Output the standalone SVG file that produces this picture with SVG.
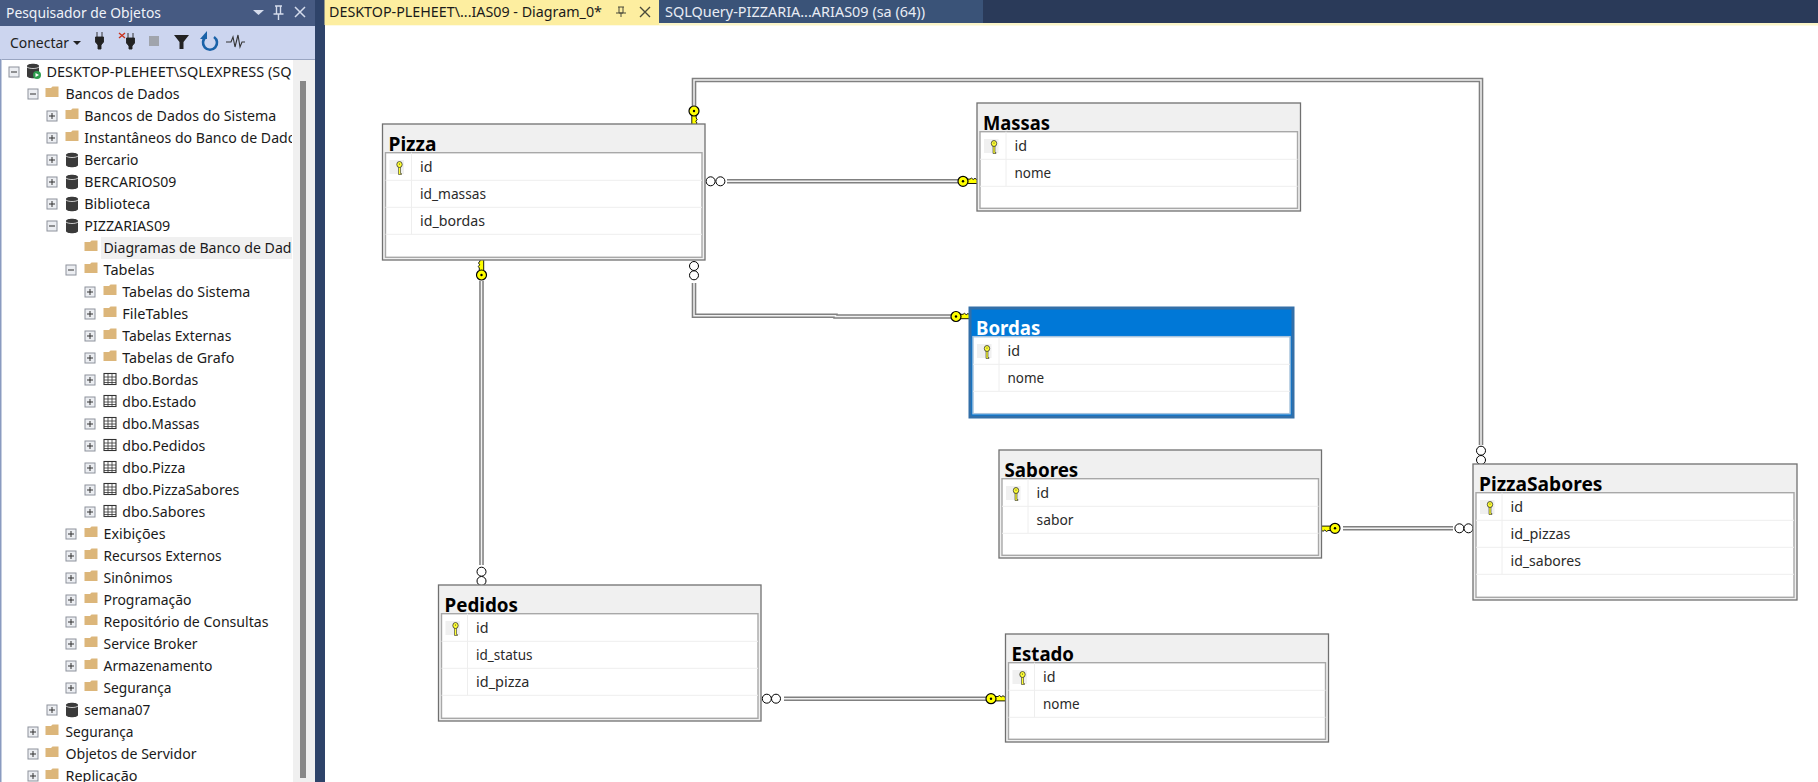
<svg xmlns="http://www.w3.org/2000/svg" xmlns:xlink="http://www.w3.org/1999/xlink" width="1818" height="782" viewBox="0 0 1818 782">
<style>
text{font-family:"Noto Sans","Open Sans","Liberation Sans",sans-serif;font-size:14px;fill:#1e1e1e}
.t{font-size:14px;fill:#1a1a1a}
.h{font-size:14px;fill:#e8ecf4}
.tt{font-size:19px;font-weight:700;fill:#000}
.c{font-size:14.5px;fill:#2a2a2a}
.box{fill:#f0f0f0;stroke:#707070;stroke-width:1.3}
.inner{fill:#fff;stroke:#a8a8a8;stroke-width:1.4}
.row{stroke:#eeeeee;stroke-width:1;fill:none}
.kbg{fill:#f0f0f0}
.lo{fill:none;stroke:#808080;stroke-width:4.6}
.li{fill:none;stroke:#f2f2f2;stroke-width:1.5}
.end{fill:#fff;stroke:#000;stroke-width:1}
</style>
<defs>
<clipPath id="treeclip"><rect x="5" y="60" width="287" height="722"/></clipPath>
<g id="minus"><rect x="-5" y="-5" width="10" height="10" fill="#eceef2" stroke="#8d929c"/><path d="M-3 0H3" stroke="#333" fill="none"/></g>
<g id="plus"><rect x="-5" y="-5" width="10" height="10" fill="#eceef2" stroke="#8d929c"/><path d="M-3 0H3M0-3V3" stroke="#333" fill="none"/></g>
<path id="folder" d="M-6.5-5H-1L0.5-6.5H6.5V4H-6.5Z" fill="#dcb67a"/>
<g id="db"><path d="M-6-5C-6-8 6-8 6-5V5C6 8-6 8-6 5Z" fill="#3a3a3a"/><path d="M-6-4C-4-2 4-2 6-4" stroke="#eee" fill="none" stroke-width="0.8"/></g>
<g id="tbl"><rect x="-6" y="-5.5" width="12" height="11" fill="#fff" stroke="#333" stroke-width="1.1"/><path d="M-6-2H6M-6 1H6M-6 3.5H6M-2-5.5V5.5M2-5.5V5.5" stroke="#333" stroke-width="0.8" fill="none"/></g>
<g id="pk"><path d="M-1-1.500H1V6.500H2V7.500H-1Z" fill="#ffff30" stroke="#333" stroke-width="0.6"/><ellipse cx="0" cy="-2.500" rx="2.700" ry="3" fill="#ffff30" stroke="#333" stroke-width="0.8"/><circle cx="0" cy="-3" r="0.6" fill="#333"/></g>
<g id="fk"><path d="M-2.200 3H2.200V7L3.200 8.500L1.800 10.200L3 12L1.500 14L0.500 19H-2.200Z" fill="#ffff00" stroke="#000" stroke-width="0.9"/><ellipse cx="0" cy="0" rx="5" ry="5" fill="#ffff00" stroke="#000" stroke-width="1.200"/><circle cx="0" cy="0" r="1.200" fill="#000"/></g>
</defs>
<rect width="1818" height="782" fill="#fff"/>
<g id="tabstrip">
<rect x="0" y="0" width="1818" height="23" fill="#2a3a59"/>
<rect x="325" y="23" width="1493" height="2.500" fill="#fbf5c8"/>
<rect x="315" y="0" width="10" height="782" fill="#2e4369"/>
<rect x="324.500" y="0" width="334.500" height="25" fill="#fdeea0"/>
<rect x="659" y="0" width="324" height="23" fill="#3a5378"/>
<text x="329" y="17" class="t" textLength="273" lengthAdjust="spacingAndGlyphs">DESKTOP-PLEHEET\...IAS09 - Diagram_0*</text>
<path d="M618 7H624M619 7V13H623V7M616 13H626M621 13V17" fill="none" stroke="#4a4a3a" stroke-width="1"/>
<path d="M640 7L650 17M650 7L640 17" fill="none" stroke="#4a4a3a" stroke-width="1.400"/>
<text x="665" y="17" class="h" textLength="260" lengthAdjust="spacingAndGlyphs">SQLQuery-PIZZARIA...ARIAS09 (sa (64))</text>
</g>
<g id="explorer">
<rect x="0" y="0" width="315" height="782" fill="#fff"/>
<rect x="0" y="0" width="315" height="26" fill="#465a82"/>
<rect x="0" y="26" width="315" height="33" fill="#ccd5ef"/>
<rect x="0" y="59" width="1.500" height="723" fill="#8a9bc0"/>
<rect x="1.500" y="59" width="313.500" height="1" fill="#9aa6c2"/>
<rect x="293" y="60" width="22" height="722" fill="#f0f0f0"/>
<rect x="300" y="81" width="6" height="697" fill="#888888"/>
<text x="6" y="18" class="h" style="fill:#f0f3f9;font-size:14.5px" textLength="155" lengthAdjust="spacingAndGlyphs">Pesquisador de Objetos</text>
<path d="M253 10H264L258.500 15Z" fill="#d5dcec"/>
<path d="M275 6H282M276.500 6V14H280.500V6M273.500 14H283.500M278.500 14V20" fill="none" stroke="#d5dcec" stroke-width="1.400"/>
<path d="M295 7L305 17M305 7L295 17" fill="none" stroke="#d5dcec" stroke-width="1.500"/>
<text x="10" y="48" class="t" style="font-size:14.5px;fill:#222" textLength="59" lengthAdjust="spacingAndGlyphs">Conectar</text>
<path d="M73 41H81L77 45Z" fill="#222"/>
<path d="M97 32V37M102 32V37M95.500 37H103.500V42L101 45V49H98V45L95.500 42Z" fill="#222" stroke="#222" stroke-width="0.900"/>
<path d="M128 33V38M133 33V38M126.500 38H134.500V43L132 46V49H129V46L126.500 43Z" fill="#222" stroke="#222" stroke-width="0.900"/>
<path d="M119 33L125 38M125 33L119 38" stroke="#c8321e" stroke-width="1.400" fill="none"/>
<rect x="149" y="36" width="10" height="10" fill="#a0a4ac"/>
<path d="M174 35H189L183.500 42V49H179.500V42Z" fill="#222"/>
<path d="M214 37A7 7 0 1 1 206 37" fill="none" stroke="#1a62a8" stroke-width="2.600"/>
<path d="M207 31V39H200Z" fill="#1a62a8"/>
<path d="M226 42H231L233 37L235 47L238 35L240 47L242 42H245" fill="none" stroke="#333" stroke-width="1.100"/>
<rect x="101" y="237" width="191" height="22" fill="#f0f0f0"/>
<g clip-path="url(#treeclip)">
<text x="46.500" y="77" class="t" textLength="245" lengthAdjust="spacingAndGlyphs">DESKTOP-PLEHEET\SQLEXPRESS (SQ</text>
<text x="65.500" y="99" class="t" textLength="114" lengthAdjust="spacingAndGlyphs">Bancos de Dados</text>
<text x="84.300" y="121" class="t" textLength="192" lengthAdjust="spacingAndGlyphs">Bancos de Dados do Sistema</text>
<text x="84.300" y="143" class="t" textLength="212" lengthAdjust="spacingAndGlyphs">Instantâneos do Banco de Dado</text>
<text x="84.300" y="165" class="t" textLength="54" lengthAdjust="spacingAndGlyphs">Bercario</text>
<text x="84.300" y="187" class="t" textLength="92" lengthAdjust="spacingAndGlyphs">BERCARIOS09</text>
<text x="84.300" y="209" class="t" textLength="66" lengthAdjust="spacingAndGlyphs">Biblioteca</text>
<text x="84.300" y="231" class="t" textLength="86" lengthAdjust="spacingAndGlyphs">PIZZARIAS09</text>
<text x="103.500" y="253" class="t" textLength="188" lengthAdjust="spacingAndGlyphs">Diagramas de Banco de Dad</text>
<text x="103.500" y="275" class="t" textLength="51" lengthAdjust="spacingAndGlyphs">Tabelas</text>
<text x="122.300" y="297" class="t" textLength="128" lengthAdjust="spacingAndGlyphs">Tabelas do Sistema</text>
<text x="122.300" y="319" class="t" textLength="66" lengthAdjust="spacingAndGlyphs">FileTables</text>
<text x="122.300" y="341" class="t" textLength="109" lengthAdjust="spacingAndGlyphs">Tabelas Externas</text>
<text x="122.300" y="363" class="t" textLength="112" lengthAdjust="spacingAndGlyphs">Tabelas de Grafo</text>
<text x="122.300" y="385" class="t" textLength="76" lengthAdjust="spacingAndGlyphs">dbo.Bordas</text>
<text x="122.300" y="407" class="t" textLength="74" lengthAdjust="spacingAndGlyphs">dbo.Estado</text>
<text x="122.300" y="429" class="t" textLength="77" lengthAdjust="spacingAndGlyphs">dbo.Massas</text>
<text x="122.300" y="451" class="t" textLength="83" lengthAdjust="spacingAndGlyphs">dbo.Pedidos</text>
<text x="122.300" y="473" class="t" textLength="63" lengthAdjust="spacingAndGlyphs">dbo.Pizza</text>
<text x="122.300" y="495" class="t" textLength="117" lengthAdjust="spacingAndGlyphs">dbo.PizzaSabores</text>
<text x="122.300" y="517" class="t" textLength="83" lengthAdjust="spacingAndGlyphs">dbo.Sabores</text>
<text x="103.500" y="539" class="t" textLength="62" lengthAdjust="spacingAndGlyphs">Exibições</text>
<text x="103.500" y="561" class="t" textLength="118" lengthAdjust="spacingAndGlyphs">Recursos Externos</text>
<text x="103.500" y="583" class="t" textLength="69" lengthAdjust="spacingAndGlyphs">Sinônimos</text>
<text x="103.500" y="605" class="t" textLength="88" lengthAdjust="spacingAndGlyphs">Programação</text>
<text x="103.500" y="627" class="t" textLength="165" lengthAdjust="spacingAndGlyphs">Repositório de Consultas</text>
<text x="103.500" y="649" class="t" textLength="94" lengthAdjust="spacingAndGlyphs">Service Broker</text>
<text x="103.500" y="671" class="t" textLength="109" lengthAdjust="spacingAndGlyphs">Armazenamento</text>
<text x="103.500" y="693" class="t" textLength="68" lengthAdjust="spacingAndGlyphs">Segurança</text>
<text x="84.300" y="715" class="t" textLength="66" lengthAdjust="spacingAndGlyphs">semana07</text>
<text x="65.500" y="737" class="t" textLength="68" lengthAdjust="spacingAndGlyphs">Segurança</text>
<text x="65.500" y="759" class="t" textLength="131" lengthAdjust="spacingAndGlyphs">Objetos de Servidor</text>
<text x="65.500" y="781" class="t" textLength="72" lengthAdjust="spacingAndGlyphs">Replicação</text>
</g>
<use href="#minus" x="14" y="72"/><use href="#db" x="33" y="71"/>
<circle cx="37" cy="75" r="4" fill="#2f9e4f"/><path d="M35.500 73V77L39 75Z" fill="#fff"/>
<use href="#minus" x="33" y="94"/><use href="#folder" x="52" y="93"/>
<use href="#plus" x="52" y="116"/><use href="#folder" x="72" y="115"/>
<use href="#plus" x="52" y="138"/><use href="#folder" x="72" y="137"/>
<use href="#plus" x="52" y="160"/><use href="#db" x="72" y="160"/>
<use href="#plus" x="52" y="182"/><use href="#db" x="72" y="182"/>
<use href="#plus" x="52" y="204"/><use href="#db" x="72" y="204"/>
<use href="#minus" x="52" y="226"/><use href="#db" x="72" y="226"/>
<use href="#folder" x="91" y="247"/>
<use href="#minus" x="71" y="270"/><use href="#folder" x="91" y="269"/>
<use href="#plus" x="90" y="292"/><use href="#folder" x="110" y="291"/>
<use href="#plus" x="90" y="314"/><use href="#folder" x="110" y="313"/>
<use href="#plus" x="90" y="336"/><use href="#folder" x="110" y="335"/>
<use href="#plus" x="90" y="358"/><use href="#folder" x="110" y="357"/>
<use href="#plus" x="90" y="380"/><use href="#tbl" x="110" y="379"/>
<use href="#plus" x="90" y="402"/><use href="#tbl" x="110" y="401"/>
<use href="#plus" x="90" y="424"/><use href="#tbl" x="110" y="423"/>
<use href="#plus" x="90" y="446"/><use href="#tbl" x="110" y="445"/>
<use href="#plus" x="90" y="468"/><use href="#tbl" x="110" y="467"/>
<use href="#plus" x="90" y="490"/><use href="#tbl" x="110" y="489"/>
<use href="#plus" x="90" y="512"/><use href="#tbl" x="110" y="511"/>
<use href="#plus" x="71" y="534"/><use href="#folder" x="91" y="533"/>
<use href="#plus" x="71" y="556"/><use href="#folder" x="91" y="555"/>
<use href="#plus" x="71" y="578"/><use href="#folder" x="91" y="577"/>
<use href="#plus" x="71" y="600"/><use href="#folder" x="91" y="599"/>
<use href="#plus" x="71" y="622"/><use href="#folder" x="91" y="621"/>
<use href="#plus" x="71" y="644"/><use href="#folder" x="91" y="643"/>
<use href="#plus" x="71" y="666"/><use href="#folder" x="91" y="665"/>
<use href="#plus" x="71" y="688"/><use href="#folder" x="91" y="687"/>
<use href="#plus" x="52" y="710"/><use href="#db" x="72" y="710"/>
<use href="#plus" x="33" y="732"/><use href="#folder" x="52" y="731"/>
<use href="#plus" x="33" y="754"/><use href="#folder" x="52" y="753"/>
<use href="#plus" x="33" y="776"/><use href="#folder" x="52" y="775"/>
</g>
<g id="connectors">
<path class="lo" d="M694 106V80H1481V445"/><path class="li" d="M694 106V80H1481V445"/>
<path class="lo" d="M727 181.300H958"/><path class="li" d="M727 181.300H958"/>
<path class="lo" d="M694 283V315.700H835.500V316.500H951"/><path class="li" d="M694 283V315.700H835.500V316.500H951"/>
<path class="lo" d="M481.500 281V565"/><path class="li" d="M481.500 281V565"/>
<path class="lo" d="M1343 528.300H1453"/><path class="li" d="M1343 528.300H1453"/>
<path class="lo" d="M784 698.700H986"/><path class="li" d="M784 698.700H986"/>
<use href="#fk" transform="translate(694 111)"/>
<use href="#fk" transform="translate(481.500 275) rotate(180)"/>
<use href="#fk" transform="translate(963 181.300) rotate(-90)"/>
<use href="#fk" transform="translate(956 316.500) rotate(-90)"/>
<use href="#fk" transform="translate(1335 528.300) rotate(90)"/>
<use href="#fk" transform="translate(991 698.700) rotate(-90)"/>
<circle class="end" cx="710.600" cy="181.300" r="4.500"/><circle class="end" cx="720.400" cy="181.300" r="4.500"/>
<circle class="end" cx="694" cy="266" r="4.500"/><circle class="end" cx="694" cy="275.300" r="4.500"/>
<circle class="end" cx="1481" cy="450.700" r="4.500"/><circle class="end" cx="1481" cy="460" r="4.500"/>
<circle class="end" cx="481.500" cy="571.700" r="4.500"/><circle class="end" cx="481.500" cy="581" r="4.500"/>
<circle class="end" cx="1459.400" cy="528.300" r="4.500"/><circle class="end" cx="1468.500" cy="528.300" r="4.500"/>
<circle class="end" cx="766.800" cy="698.700" r="4.500"/><circle class="end" cx="776" cy="698.700" r="4.500"/>
</g>
<g id="Pizza" transform="translate(382.500 124)">
<rect class="box" width="322.500" height="136"/>
<text class="tt" x="6" y="26.500" textLength="48" lengthAdjust="spacingAndGlyphs">Pizza</text>
<rect class="inner" x="3" y="28.700" width="316.500" height="104.600"/>
<path class="row" d="M3 56.300H319.500M3 83.300H319.500M3 110.300H319.500M29 28.700V110.300"/>
<rect class="kbg" x="7" y="36" width="14.500" height="14"/><use href="#pk" x="17" y="43"/>
<text class="c" x="37.500" y="48" textLength="12.500" lengthAdjust="spacingAndGlyphs">id</text>
<text class="c" x="37.500" y="75" textLength="66" lengthAdjust="spacingAndGlyphs">id_massas</text>
<text class="c" x="37.500" y="102" textLength="65" lengthAdjust="spacingAndGlyphs">id_bordas</text>
</g>
<g id="Massas" transform="translate(977 103)">
<rect class="box" width="323.500" height="108"/>
<text class="tt" x="6" y="26.500" textLength="67" lengthAdjust="spacingAndGlyphs">Massas</text>
<rect class="inner" x="3" y="28.700" width="317.500" height="76.600"/>
<path class="row" d="M3 56.300H320.500M3 83.300H320.500M29 28.700V83.300"/>
<rect class="kbg" x="7" y="36" width="14.500" height="14"/><use href="#pk" x="17" y="43"/>
<text class="c" x="37.500" y="48" textLength="12.500" lengthAdjust="spacingAndGlyphs">id</text>
<text class="c" x="37.500" y="75" textLength="36.600" lengthAdjust="spacingAndGlyphs">nome</text>
</g>
<g id="Bordas" transform="translate(970 308)">
<rect width="323" height="109" fill="#0078d7" stroke="#336fa8" stroke-width="3"/>
<text class="tt" x="6" y="26.500" style="fill:#fff" textLength="64.400" lengthAdjust="spacingAndGlyphs">Bordas</text>
<rect x="3" y="28.700" width="317" height="77" fill="#fff" stroke="#a9c4dd" stroke-width="1.500"/>
<path class="row" d="M3 56.300H320M3 83.300H320M29 28.700V83.300"/>
<rect class="kbg" x="7" y="36" width="14.500" height="14"/><use href="#pk" x="17" y="43"/>
<text class="c" x="37.500" y="48" textLength="12.500" lengthAdjust="spacingAndGlyphs">id</text>
<text class="c" x="37.500" y="75" textLength="36.600" lengthAdjust="spacingAndGlyphs">nome</text>
</g>
<g id="Sabores" transform="translate(999 450)">
<rect class="box" width="322.500" height="108"/>
<text class="tt" x="5.500" y="26.500" textLength="73.800" lengthAdjust="spacingAndGlyphs">Sabores</text>
<rect class="inner" x="3" y="28.700" width="316.500" height="76.600"/>
<path class="row" d="M3 56.300H319.500M3 83.300H319.500M29 28.700V83.300"/>
<rect class="kbg" x="7" y="36" width="14.500" height="14"/><use href="#pk" x="17" y="43"/>
<text class="c" x="37.500" y="48" textLength="12.500" lengthAdjust="spacingAndGlyphs">id</text>
<text class="c" x="37.500" y="75" textLength="37" lengthAdjust="spacingAndGlyphs">sabor</text>
</g>
<g id="PizzaSabores" transform="translate(1473 464)">
<rect class="box" width="324" height="136"/>
<text class="tt" x="6" y="26.500" textLength="123.500" lengthAdjust="spacingAndGlyphs">PizzaSabores</text>
<rect class="inner" x="3" y="28.700" width="318" height="104.600"/>
<path class="row" d="M3 56.300H321M3 83.300H321M3 110.300H321M29 28.700V110.300"/>
<rect class="kbg" x="7" y="36" width="14.500" height="14"/><use href="#pk" x="17" y="43"/>
<text class="c" x="37.500" y="48" textLength="12.500" lengthAdjust="spacingAndGlyphs">id</text>
<text class="c" x="37.500" y="75" textLength="60" lengthAdjust="spacingAndGlyphs">id_pizzas</text>
<text class="c" x="37.500" y="102" textLength="70.500" lengthAdjust="spacingAndGlyphs">id_sabores</text>
</g>
<g id="Estado" transform="translate(1005.500 634)">
<rect class="box" width="323" height="108"/>
<text class="tt" x="6" y="26.500" textLength="62.500" lengthAdjust="spacingAndGlyphs">Estado</text>
<rect class="inner" x="3" y="28.700" width="317" height="76.600"/>
<path class="row" d="M3 56.300H320M3 83.300H320M29 28.700V83.300"/>
<rect class="kbg" x="7" y="36" width="14.500" height="14"/><use href="#pk" x="17" y="43"/>
<text class="c" x="37.500" y="48" textLength="12.500" lengthAdjust="spacingAndGlyphs">id</text>
<text class="c" x="37.500" y="75" textLength="36.600" lengthAdjust="spacingAndGlyphs">nome</text>
</g>
<g id="Pedidos" transform="translate(438.500 585)">
<rect class="box" width="322.500" height="136"/>
<text class="tt" x="6" y="26.500" textLength="73.500" lengthAdjust="spacingAndGlyphs">Pedidos</text>
<rect class="inner" x="3" y="28.700" width="316.500" height="104.600"/>
<path class="row" d="M3 56.300H319.500M3 83.300H319.500M3 110.300H319.500M29 28.700V110.300"/>
<rect class="kbg" x="7" y="36" width="14.500" height="14"/><use href="#pk" x="17" y="43"/>
<text class="c" x="37.500" y="48" textLength="12.500" lengthAdjust="spacingAndGlyphs">id</text>
<text class="c" x="37.500" y="75" textLength="56.500" lengthAdjust="spacingAndGlyphs">id_status</text>
<text class="c" x="37.500" y="102" textLength="53.400" lengthAdjust="spacingAndGlyphs">id_pizza</text>
</g>
</svg>
